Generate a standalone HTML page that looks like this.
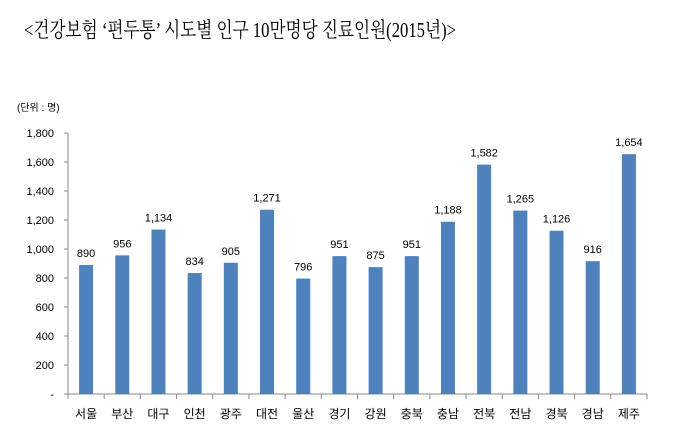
<!DOCTYPE html>
<html><head><meta charset="utf-8"><style>
body{margin:0;background:#fff;width:682px;height:437px;overflow:hidden}
svg{display:block}
</style></head><body>
<svg width="682" height="437" xmlns="http://www.w3.org/2000/svg">
<text x="24" y="37" font-family="'Liberation Serif','Noto Serif CJK SC',serif" font-size="21" textLength="432" lengthAdjust="spacingAndGlyphs">&lt;건강보험 ‘편두통’ 시도별 인구 10만명당 진료인원(2015년)&gt;</text>
<text x="17" y="111" font-family="'Liberation Sans','Noto Sans CJK KR',sans-serif" font-size="10">(단위 : 명)</text>
<g id="axes"></g>
<g id="bars"></g>
</svg>
<script>
const categories=["서울","부산","대구","인천","광주","대전","울산","경기","강원","충북","충남","전북","전남","경북","경남","제주"];
const values=[890,956,1134,834,905,1271,796,951,875,951,1188,1582,1265,1126,916,1654];
const yTicks=[0,200,400,600,800,1000,1200,1400,1600,1800];
const ns="http://www.w3.org/2000/svg";
const x0=68,x1=647,y0=394,yTop=133,yMax=1800;
const step=(x1-x0)/categories.length;
const y=v=>y0-(v/yMax)*(y0-yTop);
const xc=i=>x0+step*(i+0.5);
const fmt=v=>v===0?"-":v.toLocaleString("en-US");
const font="'Liberation Sans','Noto Sans CJK KR',sans-serif";
function mk(tag,attrs,parent){const e=document.createElementNS(ns,tag);for(const k in attrs)e.setAttribute(k,attrs[k]);parent.appendChild(e);return e;}
const ax=document.getElementById("axes"),bg=document.getElementById("bars");
let l=mk("line",{x1:x0,y1:yTop,x2:x0,y2:y0,stroke:"#888","stroke-width":1},ax);


l=mk("line",{x1:x0,y1:y0,x2:x1,y2:y0,stroke:"#888","stroke-width":1},ax);


yTicks.forEach(t=>{
 const tk=mk("line",{x1:x0-4,y1:y(t),x2:x0,y2:y(t),stroke:"#888"},ax);
 
 
 const tx=mk("text",{x:x0-14,y:y(t)+4,"text-anchor":"end","font-family":font,"font-size":11},ax);
 tx.textContent=fmt(t);
 
 
});
for(let i=0;i<=categories.length;i++){
 const tk=mk("line",{x1:x0+step*i,y1:y0,x2:x0+step*i,y2:y0+5,stroke:"#888"},ax);
 
 
}
categories.forEach((c,i)=>{
 const v=values[i],bw=14;
 const r=mk("rect",{x:xc(i)-bw/2,y:y(v),width:bw,height:y0-y(v),fill:"#4f81bd"},bg);
 
 
 const vl=mk("text",{x:xc(i),y:y(v)-8,"text-anchor":"middle","font-family":font,"font-size":11},bg);
 vl.textContent=fmt(v);
 
 
 const cl=mk("text",{x:xc(i),y:418,"text-anchor":"middle","font-family":font,"font-size":12},bg);
 cl.textContent=c;
 
 
});
</script>
</body></html>
